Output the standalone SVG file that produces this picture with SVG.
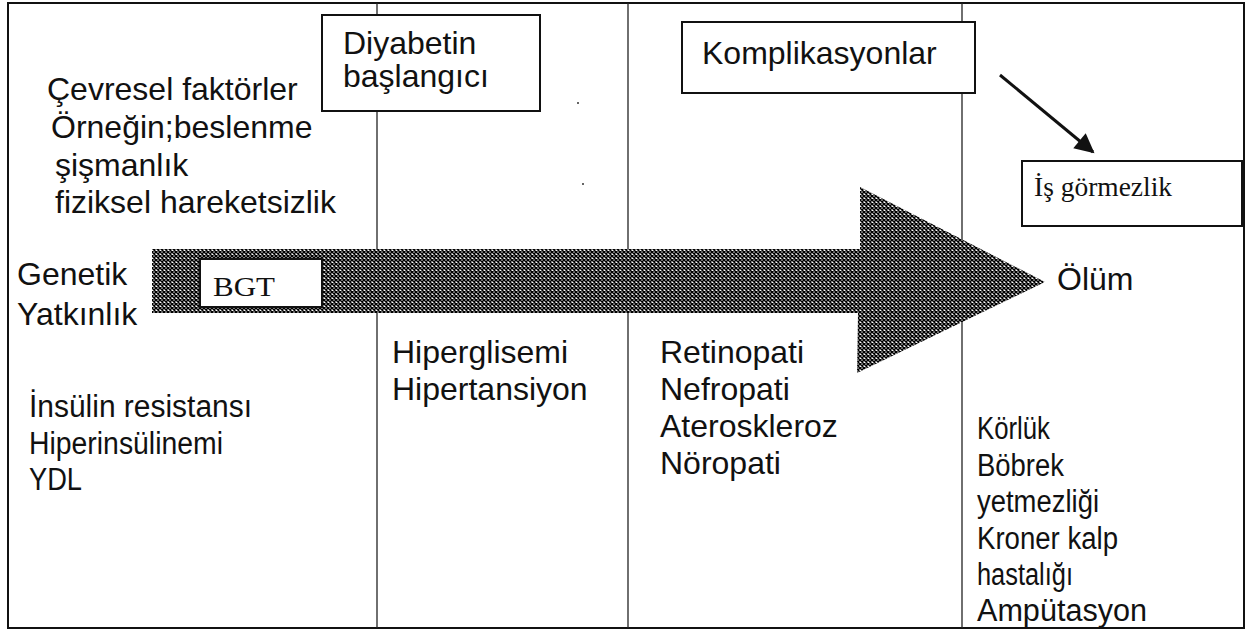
<svg xmlns="http://www.w3.org/2000/svg" width="1250" height="637" viewBox="0 0 1250 637">
<style>
.t{font-family:"Liberation Sans",Arial,sans-serif;font-size:32px;fill:#111}
.n{font-family:"Liberation Sans",Arial,sans-serif;font-size:31px;fill:#111}
.s{font-family:"Liberation Serif","Times New Roman",serif;font-size:28px;fill:#111}
.box{fill:#fff;stroke:#111;stroke-width:2}
.div{stroke:#222;stroke-width:1.3;fill:none}
</style>
<defs>
<pattern id="hatch" width="4" height="4" patternUnits="userSpaceOnUse">
<rect width="4" height="4" fill="#fff"/>
<path d="M0,0 L4,4 M4,0 L0,4" stroke="#000" stroke-width="1.5"/>
</pattern>
<marker id="ah" viewBox="0 0 10 10" refX="9" refY="5" markerWidth="8" markerHeight="6.5" orient="auto" markerUnits="strokeWidth">
<path d="M0,0 L10,5 L0,10 z" fill="#111"/>
</marker>
</defs>
<rect x="0" y="0" width="1250" height="637" fill="#fff"/>
<g id="frame">
<rect x="8" y="3" width="1236" height="625" fill="none" stroke="#111" stroke-width="2"/>
<line class="div" x1="377" y1="3" x2="377" y2="628"/>
<line class="div" x1="628" y1="3" x2="628" y2="628"/>
<line class="div" x1="962" y1="3" x2="962" y2="628"/>
<circle cx="578" cy="103" r="1" fill="#333"/>
<circle cx="583" cy="184" r="1" fill="#333"/>
</g>
<g id="connectors">
<polygon id="timeline-arrow" points="152,249 860,249 860,187 1045,282 857,373 858,313 152,313" fill="url(#hatch)"/>
<line x1="1000" y1="75" x2="1093" y2="152" stroke="#111" stroke-width="3" marker-end="url(#ah)"/>
</g>
<g id="cevresel">
<text class="t" x="47" y="100">Çevresel faktörler</text>
<text class="t" x="51" y="138">Örneğin;beslenme</text>
<text class="t" x="55" y="176">şişmanlık</text>
<text class="t" x="55" y="213">fiziksel hareketsizlik</text>
</g>
<g id="diyabetin">
<rect class="box" x="322" y="15" width="218" height="96"/>
<text class="t" x="343" y="54" font-size="28">Diyabetin</text>
<text class="t" x="343" y="87" font-size="28">başlangıcı</text>
</g>
<g id="komplikasyonlar">
<rect class="box" x="682" y="22" width="293" height="71"/>
<text class="t" x="702" y="64">Komplikasyonlar</text>
</g>
<g id="isgormezlik">
<rect class="box" x="1022" y="161" width="220" height="65"/>
<text class="s" x="1034" y="196" textLength="138" lengthAdjust="spacingAndGlyphs">İş görmezlik</text>
</g>
<g id="genetik">
<text class="t" x="17" y="285">Genetik</text>
<text class="t" x="17" y="325">Yatkınlık</text>
</g>
<g id="bgt">
<rect class="box" x="200" y="259" width="122" height="48"/>
<text class="s" x="213" y="296" font-size="30" textLength="62" lengthAdjust="spacingAndGlyphs">BGT</text>
</g>
<g id="olum">
<text class="t" x="1057" y="290" font-size="34">Ölüm</text>
</g>
<g id="hiperglisemi">
<text class="t" x="392" y="363">Hiperglisemi</text>
<text class="t" x="392" y="400">Hipertansiyon</text>
</g>
<g id="retinopati">
<text class="t" x="660" y="363">Retinopati</text>
<text class="t" x="660" y="400">Nefropati</text>
<text class="t" x="660" y="437">Ateroskleroz</text>
<text class="t" x="660" y="474">Nöropati</text>
</g>
<g id="insulin">
<text class="n" x="29" y="417" textLength="223" lengthAdjust="spacingAndGlyphs">İnsülin  resistansı</text>
<text class="n" x="29" y="454" textLength="194" lengthAdjust="spacingAndGlyphs">Hiperinsülinemi</text>
<text class="n" x="29" y="490" textLength="53" lengthAdjust="spacingAndGlyphs">YDL</text>
</g>
<g id="korluk">
<text class="n" x="977" y="439" textLength="73" lengthAdjust="spacingAndGlyphs">Körlük</text>
<text class="n" x="977" y="476" textLength="87" lengthAdjust="spacingAndGlyphs">Böbrek</text>
<text class="n" x="977" y="512" textLength="122" lengthAdjust="spacingAndGlyphs">yetmezliği</text>
<text class="n" x="977" y="549" textLength="141" lengthAdjust="spacingAndGlyphs">Kroner kalp</text>
<text class="n" x="977" y="585" textLength="96" lengthAdjust="spacingAndGlyphs">hastalığı</text>
<text class="n" x="977" y="621" textLength="170" lengthAdjust="spacingAndGlyphs">Ampütasyon</text>
</g>
</svg>
